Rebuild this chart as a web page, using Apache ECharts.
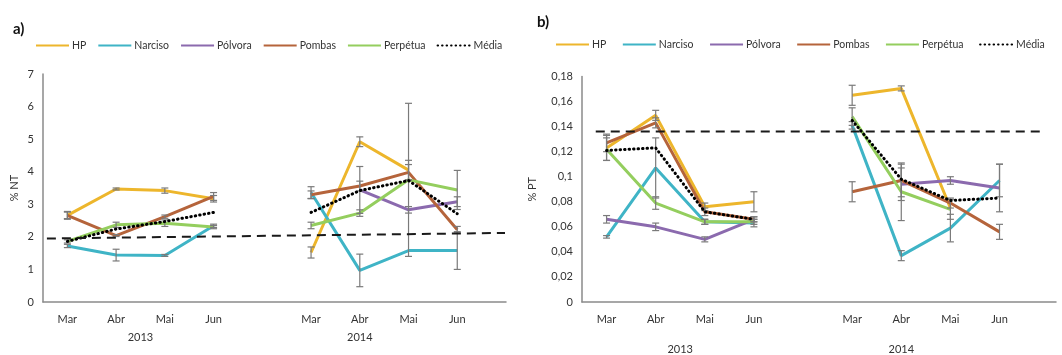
<!DOCTYPE html>
<html>
<head>
<meta charset="utf-8">
<script src="https://cdn.jsdelivr.net/npm/echarts@6/dist/echarts.min.js"></script>
<style>
html,body{margin:0;padding:0;background:#fff;}
#c{width:1062px;height:355px;}
</style>
</head>
<body>
<div id="c"></div>
<script>
// Categories (2013: Mar-Jun, gap, 2014: Mar-Jun)
const months = ['Mar','Abr','Mai','Jun','Mar','Abr','Mai','Jun'];
const monthPos = [1,2,3,4,6,7,8,9];
const years = ['2013','2014'];
const yearPos = [2.5, 7];
const seriesNames = ['HP','Narciso','Pólvora','Pombas','Perpétua','Média'];

// Panel a) % NT
const a_HP       = [2.66, 3.47, 3.42, 3.17, 1.52, 4.92, 4.05, null];
const a_Narciso  = [1.72, 1.44, 1.43, 2.34, 3.36, 0.97, 1.58, 1.58];
const a_Polvora  = [null, null, null, null, null, 3.44, 2.83, 3.08];
const a_Pombas   = [2.66, 2.04, 2.62, 3.24, 3.29, 3.56, 3.98, 2.22];
const a_Perpetua = [1.86, 2.37, 2.42, 2.30, 2.35, 2.73, 3.75, 3.44];
const a_Media    = [1.86, 2.24, 2.47, 2.75, 2.75, 3.42, 3.73, 2.71];
const a_HP_err       = [0.12, 0.03, 0.08, 0.10, 0.17, 0.15, 0.30, null];
const a_Narciso_err  = [0.05, 0.18, 0.03, 0.05, 0.18, 0.50, null, 0.58];
const a_Polvora_err  = [null, null, null, null, null, 0.72, 0.10, 0.15];
const a_Pombas_err   = [0.10, 0.03, 0.05, 0.12, 0.12, 0.15, 0.24, 0.10];
const a_Perpetua_err = [0.05, 0.08, 0.10, 0.05, 0.10, 0.10, 2.35, 0.60];
const a_thrX = [0.58, 9.98];
const a_thrY = [1.95, 2.12];

// Panel b) % PT
const b_HP       = [0.123, 0.149, 0.076, 0.080, 0.165, 0.1705, 0.075, null];
const b_Narciso  = [0.052, 0.107, 0.064, 0.063, 0.141, 0.037, 0.059, 0.097];
const b_Polvora  = [0.066, 0.060, 0.050, 0.066, null, 0.094, 0.097, 0.091];
const b_Pombas   = [0.127, 0.143, 0.072, 0.066, 0.088, 0.097, 0.079, 0.056];
const b_Perpetua = [0.122, 0.079, 0.064, 0.064, 0.148, 0.088, 0.074, null];
const b_Media    = [0.121, 0.123, 0.072, 0.066, 0.145, 0.098, 0.081, 0.083];
const b_HP_err       = [0.010, 0.004, 0.003, 0.008, 0.008, 0.002, null, null];
const b_Narciso_err  = [0.001, 0.024, 0.002, 0.003, 0.003, 0.004, 0.011, 0.013];
const b_Polvora_err  = [0.003, 0.003, 0.002, 0.002, null, 0.013, 0.003, 0.019];
const b_Pombas_err   = [0.007, 0.004, 0.003, 0.002, 0.008, 0.013, 0.004, 0.006];
const b_Perpetua_err = [0.009, 0.005, 0.002, 0.002, 0.007, 0.023, 0.008, null];
const b_thrX = [0.78, 9.87];
const b_thrY = [0.136, 0.136];

const colors = {
  'HP':'#EDB62C', 'Narciso':'#3FB4C6', 'Pólvora':'#8B6AAE',
  'Pombas':'#B5643B', 'Perpétua':'#94CE5E', 'Média':'#000000'
};
const FONT = 'Lato';
const TXT = '#333333';

function pairs(vals){
  const out = [];
  vals.forEach((v,i)=>{
    if(i===4) out.push([5,'-']);
    out.push([monthPos[i], v==null ? '-' : v]);
  });
  return out;
}
function errData(vals, errs){
  const out = [];
  vals.forEach((v,i)=>{
    if(v!=null && errs[i]!=null) out.push([monthPos[i], v-errs[i], v+errs[i]]);
  });
  return out;
}
function renderErr(params, api){
  const x = api.value(0), lo = api.value(1), hi = api.value(2);
  const p1 = api.coord([x, lo]), p2 = api.coord([x, hi]);
  const w = 3.5, st = {stroke:'#7a7a7a', lineWidth:1.2};
  return {type:'group', children:[
    {type:'line', shape:{x1:p1[0],y1:p1[1],x2:p2[0],y2:p2[1]}, style:st},
    {type:'line', shape:{x1:p1[0]-w,y1:p1[1],x2:p1[0]+w,y2:p1[1]}, style:st},
    {type:'line', shape:{x1:p2[0]-w,y1:p2[1],x2:p2[0]+w,y2:p2[1]}, style:st}
  ]};
}

function panelSeries(xi, yi, data, errs, thrX, thrY){
  const s = [];
  seriesNames.forEach((n, k)=>{
    const isMean = n==='Média';
    s.push({
      name:n, type:'line', xAxisIndex:xi, yAxisIndex:yi,
      data:pairs(data[k]), symbol:'none', connectNulls:false, silent:true,
      color:colors[n], z: isMean ? 6 : 3,
      lineStyle: isMean ? {color:'#000', width:3, type:[0.5,4], cap:'round'} : {color:colors[n], width:3}
    });
  });
  errs.forEach((e,k)=>{
    s.push({
      type:'custom', xAxisIndex:xi, yAxisIndex:yi, silent:true, z:5,
      renderItem:renderErr, encode:{x:0, y:[1,2]},
      data:errData(data[k], e)
    });
  });
  s.push({
    type:'line', xAxisIndex:xi, yAxisIndex:yi, silent:true, symbol:'none', z:7,
    data:[[thrX[0],thrY[0]],[thrX[1],thrY[1]]],
    lineStyle:{color:'#1a1a1a', width:2, type:[9,6]}
  });
  return s;
}

function monthAxis(grid, min, max){
  return {
    type:'value', gridIndex:grid, min:min, max:max, position:'bottom',
    axisLine:{show:true, onZero:false, lineStyle:{color:'#8a8a8a', width:1.5}},
    axisTick:{show:false}, splitLine:{show:false},
    axisLabel:{customValues:monthPos, margin:12, color:TXT, fontFamily:FONT, fontSize:11,
      formatter:(v)=>months[monthPos.indexOf(Math.round(v))] || ''}
  };
}
function yearAxis(grid, min, max, offset){
  return {
    type:'value', gridIndex:grid, min:min, max:max, position:'bottom', offset:offset,
    axisLine:{show:false}, axisTick:{show:false}, splitLine:{show:false},
    axisLabel:{customValues:yearPos, margin:12, color:TXT, fontFamily:FONT, fontSize:11,
      formatter:(v)=> v<5 ? years[0] : years[1]}
  };
}

function makeLegend(left, top, gap){
  return {
    data:seriesNames, selectedMode:false, left:left, top:top,
    itemWidth:33, itemHeight:8, itemGap:gap,
    itemStyle:{opacity:0},
    textStyle:{color:TXT, fontFamily:FONT, fontSize:10.5, padding:[0,0,0,-2]}
  };
}

const option = {
  animation:false,
  backgroundColor:'#fff',
  title:[
    {text:'a)', left:8, top:17, textStyle:{fontFamily:FONT, fontSize:15, fontWeight:'bold', color:'#111'}},
    {text:'b)', left:532, top:10, textStyle:{fontFamily:FONT, fontSize:15, fontWeight:'bold', color:'#111'}}
  ],
  legend:[ makeLegend(30, 35, 11), makeLegend(550, 34, 15.5) ],
  grid:[
    {left:43, right:556, top:74, bottom:53},
    {left:582, right:6, top:76.5, bottom:53}
  ],
  xAxis:[
    monthAxis(0, 0.5, 10),
    yearAxis(0, 0.5, 10, 18),
    monthAxis(1, 0.5, 10.15),
    yearAxis(1, 0.5, 10.15, 30)
  ],
  yAxis:[
    {type:'value', gridIndex:0, min:0, max:7, interval:1, name:'% NT', nameLocation:'middle', nameGap:23,
     nameTextStyle:{color:TXT, fontFamily:FONT, fontSize:11},
     axisLine:{show:true, lineStyle:{color:'#8a8a8a', width:1.5}}, axisTick:{show:false}, splitLine:{show:false},
     axisLabel:{color:TXT, fontFamily:FONT, fontSize:11, margin:9}},
    {type:'value', gridIndex:1, min:0, max:0.18, interval:0.02, name:'% PT', nameLocation:'middle', nameGap:44,
     nameTextStyle:{color:TXT, fontFamily:FONT, fontSize:11},
     axisLine:{show:true, lineStyle:{color:'#8a8a8a', width:1.5}}, axisTick:{show:false}, splitLine:{show:false},
     axisLabel:{color:TXT, fontFamily:FONT, fontSize:11, margin:9,
       formatter:(v)=>String(+v.toFixed(2)).replace('.',',')}}
  ],
  series:[].concat(
    panelSeries(0, 0, [a_HP,a_Narciso,a_Polvora,a_Pombas,a_Perpetua,a_Media],
      [a_HP_err,a_Narciso_err,a_Polvora_err,a_Pombas_err,a_Perpetua_err], a_thrX, a_thrY),
    panelSeries(2, 1, [b_HP,b_Narciso,b_Polvora,b_Pombas,b_Perpetua,b_Media],
      [b_HP_err,b_Narciso_err,b_Polvora_err,b_Pombas_err,b_Perpetua_err], b_thrX, b_thrY)
  )
};

const chart = echarts.init(document.getElementById('c'), null, {renderer:'canvas'});
chart.setOption(option);
</script>
</body>
</html>
